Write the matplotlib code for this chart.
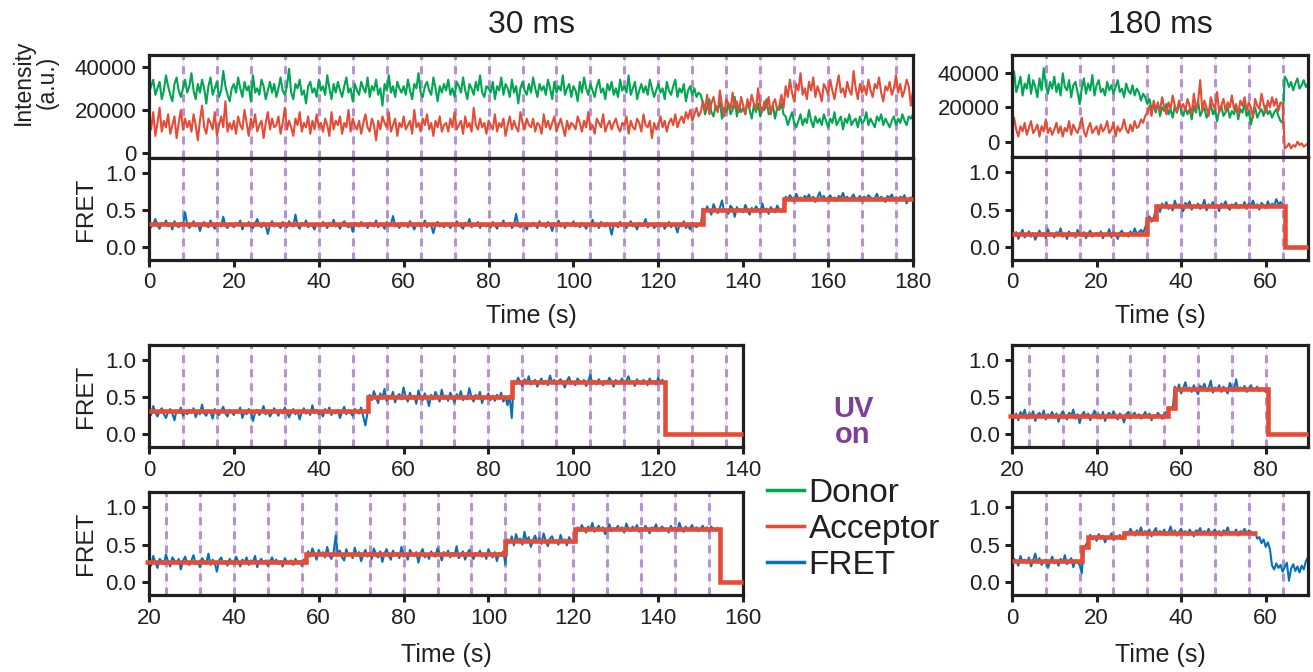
import numpy as np
import matplotlib
matplotlib.use('Agg')
import matplotlib.pyplot as plt
from matplotlib.lines import Line2D

plt.rcParams['font.family'] = ['Liberation Sans', 'DejaVu Sans']

# cores
VERDE = '#00A651'
VERMELHO = '#E64B35'
AZUL = '#0572B8'
ROXO_TRACO = '#B592D0'
ROXO_UV = '#7F3F98'
PRETO = '#231F20'

# ---------------- dados (1 ponto a cada 0,5 s) ----------------
# 30 ms, painel de cima, 0 a 180 s: intensidades em milhares (a.u.)
tl_t = (0, 180)
tl_donor_k = [
    28,31,34,27,30,33,25,29,36,31,27,24,32,35,29,26,30,34,28,31,
    37,29,25,32,28,34,30,23,31,35,27,30,33,26,29,38,31,27,24,30,
    32,28,35,30,26,33,29,31,24,36,28,30,27,34,31,25,29,33,28,32,
    26,30,35,29,27,31,39,28,25,32,30,34,27,29,23,31,33,28,30,26,
    34,29,31,27,36,30,25,32,28,33,29,26,31,35,28,30,24,32,29,27,
    33,30,28,35,26,31,29,34,27,30,22,32,29,36,28,31,26,33,30,28,
    31,27,34,29,25,32,30,37,28,26,31,33,29,27,35,30,24,31,28,32,
    29,34,27,30,26,33,31,28,35,29,25,32,30,27,33,29,36,28,26,31,
    30,28,33,25,31,29,35,27,32,30,26,34,28,31,23,30,33,29,27,32,
    28,35,30,26,32,29,31,27,34,30,25,33,28,31,29,36,27,30,32,26,
    31,29,24,33,28,35,30,27,32,29,26,31,34,28,30,25,32,29,33,27,
    30,26,34,29,31,28,36,27,30,33,25,29,32,28,31,27,34,30,26,29,
    32,28,30,25,33,29,27,31,34,26,30,28,32,24,29,31,27,30,26,28,
    27,
    23,18,21,25,19,17,22,20,24,16,21,19,23,18,20,26,17,22,19,21,
    18,24,20,16,22,19,23,17,21,20,25,18,19,22,16,21,20,23,18,
    17,13,16,19,14,12,15,18,13,16,14,20,15,12,17,14,16,13,18,15,
    12,16,14,19,13,15,17,11,16,14,18,13,15,16,12,17,14,15,19,13,
    16,14,12,17,15,18,13,16,14,12,15,17,13,16,14,18,15,13,17,16,
    18]
tl_acceptor_k = [
    16,11,19,8,14,21,10,15,12,18,9,13,17,7,14,20,11,16,12,15,
    10,18,13,6,15,22,12,9,16,14,11,19,8,13,17,12,24,10,14,11,
    15,9,17,13,11,20,14,8,16,12,18,10,13,15,7,14,19,11,16,12,
    13,17,9,14,21,11,15,12,8,16,13,19,10,14,12,17,9,15,11,18,
    12,14,10,16,13,8,19,11,15,13,17,9,14,12,20,10,16,13,11,15,
    9,14,18,12,10,16,13,6,15,11,17,14,12,19,10,13,16,8,14,12,
    17,11,13,15,9,20,12,14,10,16,13,18,11,14,8,15,12,17,10,13,
    14,10,16,12,19,11,13,15,9,17,12,14,10,21,13,11,16,12,14,9,
    15,13,11,18,10,14,12,16,8,13,17,11,15,12,10,19,14,11,16,13,
    12,16,10,14,13,9,18,12,15,11,14,17,10,13,16,12,8,15,11,14,
    13,11,17,14,10,15,12,19,11,13,9,16,14,12,18,10,13,15,11,14,
    16,12,10,14,13,17,9,15,12,11,16,14,10,18,13,12,15,7,14,11,
    13,17,12,15,10,14,16,13,18,12,15,17,14,19,16,20,15,18,21,17,
    19,
    24,20,27,18,23,26,21,19,29,22,17,25,23,20,28,21,24,19,26,22,
    18,25,21,27,23,20,30,22,19,24,21,26,18,23,25,20,22,27,21,
    31,26,34,28,24,32,29,37,27,30,25,33,29,35,26,31,28,24,32,30,
    27,34,29,25,31,36,28,30,26,33,29,27,38,30,25,32,28,31,27,34,
    29,26,32,30,35,28,24,31,29,33,27,30,36,28,32,26,29,34,31,22,
    29]
# FRET em centésimos
tl_fret = [
    34,27,31,38,29,25,33,30,36,28,32,24,35,30,27,33,29,47,31,26,
    30,35,28,32,22,31,34,29,27,36,30,25,33,31,28,41,29,26,32,30,
    27,33,30,36,24,31,29,34,28,26,32,38,30,27,33,29,18,31,35,28,
    32,29,26,34,31,27,35,30,28,44,29,25,33,30,36,27,31,29,24,32,
    30,28,34,31,26,33,29,37,28,30,25,32,35,29,27,31,21,33,30,28,
    34,29,31,26,33,30,28,36,27,32,30,25,34,29,31,42,28,30,26,33,
    29,32,27,35,30,24,31,33,28,30,36,27,32,29,19,31,34,28,30,27,
    33,30,26,32,29,35,31,28,25,33,30,38,27,31,29,34,26,32,30,28,
    31,27,34,30,25,32,29,36,28,31,33,26,30,45,29,27,32,30,24,31,
    28,33,30,26,35,29,31,27,34,30,22,32,29,36,28,31,26,33,30,29,
    35,28,31,27,33,30,25,32,29,37,28,31,26,34,30,28,33,29,17,31,
    30,27,34,29,32,26,31,35,28,30,24,33,29,31,38,27,30,32,26,29,
    33,28,31,25,30,34,27,32,29,20,31,28,35,26,30,24,33,29,27,31,
    30,
    52,47,55,49,44,58,51,46,53,63,48,50,45,56,52,41,54,49,51,47,
    57,50,44,53,48,55,51,46,59,49,52,45,54,50,47,56,51,48,53,
    68,64,70,66,62,72,65,67,63,69,66,71,64,68,61,67,74,65,69,63,
    66,70,64,67,62,69,66,73,65,68,63,67,71,64,66,69,62,68,65,70,
    67,63,66,72,64,68,65,61,69,66,71,64,67,63,68,66,70,59,65,67,
    66]
tl_fit_t = [0, 130.5, 149.5, 180]
tl_fit_v = [0.32, 0.50, 0.65]
tl_uv = [8, 16, 24, 32, 40, 48, 56, 64, 72, 80, 88, 96, 104, 112, 120, 128,
         136, 144, 152, 160, 168, 176]

# 180 ms, painel de cima, 0 a 70 s
tr_t = (0, 70)
tr_donor_k = [
    35,41,29,33,38,27,34,31,39,28,36,32,26,37,30,43,33,28,35,31,
    38,29,34,27,40,32,30,36,26,33,35,29,22,31,37,28,34,30,39,27,
    33,36,29,31,27,35,30,33,28,32,36,29,31,26,34,30,28,33,27,31,
    29,24,28,26,
    22,25,19,21,17,23,15,20,18,22,16,19,14,21,17,23,18,15,20,16,
    19,13,21,17,24,15,18,20,14,17,22,16,19,12,18,21,15,17,20,14,
    18,16,21,13,19,17,22,15,18,10,16,20,14,17,19,15,21,16,18,14,
    17,19,15,12,11,
    38,36,32,35,30,34,37,31,33,36,32,34]
tr_acceptor_k = [
    5,14,7,3,9,6,11,4,8,12,5,7,10,3,9,6,13,5,8,4,
    7,11,5,9,3,8,6,12,4,10,7,5,9,14,6,3,8,11,5,7,
    9,4,10,6,8,12,5,7,11,3,9,6,8,13,7,5,10,6,12,8,
    9,13,11,15,
    17,21,15,24,19,22,18,26,20,16,23,19,27,21,17,24,20,22,18,25,
    21,16,28,19,23,36,18,24,20,15,26,22,19,29,17,21,25,18,23,20,
    27,19,22,16,24,21,26,18,23,20,14,25,21,19,28,22,17,24,20,26,
    21,25,18,23,22,
    -4,-3,-1,-4,-2,-3,0,-2,-1,-3,-2,-1]
tr_fret_t = (0, 64)
tr_fret = [
    27,15,20,11,18,23,13,17,21,14,19,10,16,22,15,19,12,24,16,18,
    13,20,17,25,14,18,11,21,16,19,13,23,17,15,20,12,18,22,14,17,
    19,15,21,12,18,16,24,13,20,17,11,19,22,15,18,14,21,16,25,18,
    20,23,19,26,
    36,41,34,39,
    50,56,47,58,53,60,51,55,49,62,54,57,52,48,59,55,61,50,56,53,
    58,51,55,63,49,57,54,60,52,56,48,58,55,61,53,50,57,55,59,52,
    56,54,60,51,58,55,62,53,57,50,59,56,52,61,54,58,55,64,57,60,
    56]
tr_fit_t = [0, 32, 34, 64.5, 70]
tr_fit_v = [0.17, 0.37, 0.55, 0.0]
tr_uv = [8, 16, 24, 32, 40, 48, 56, 64]

# 30 ms, meio: FRET de 0 a 121 s
ml_t = (0, 121)
ml_fret = [
    33,26,38,29,24,31,35,27,22,30,34,28,19,32,29,36,25,30,27,33,
    29,35,23,31,27,40,28,25,32,30,21,34,29,26,31,37,28,24,33,30,
    26,32,29,36,22,30,27,34,31,18,29,33,26,30,38,27,32,24,29,35,
    31,25,33,28,36,30,23,29,34,27,32,20,30,35,28,31,26,39,29,33,
    27,30,24,34,29,36,26,31,28,33,22,30,37,27,32,29,25,34,31,28,
    36,24,12,29,
    53,46,58,50,42,55,48,61,45,52,49,57,43,51,54,47,63,50,44,56,
    48,52,41,59,50,46,55,49,38,53,47,57,51,44,60,48,52,45,56,50,
    43,54,49,58,46,51,47,62,50,44,53,48,57,42,51,49,55,46,52,45,
    53,48,56,44,50,39,52,22,
    72,68,76,70,65,74,69,78,67,71,73,64,70,75,68,72,66,79,70,73,
    67,71,74,69,63,72,77,68,70,66,75,71,69,73,65,70,80,68,72,67,
    74,70,66,72,69,76,71,64,73,68,70,75,67,72,78,69,71,65,74,70,
    68,73,71,66,75,69,72,67,76,70,73]
ml_fit_t = [0, 51.5, 85.5, 121.5, 140]
ml_fit_v = [0.31, 0.50, 0.70, 0.0]
ml_uv = [8, 16, 24, 32, 40, 48, 56, 64, 72, 80, 88, 96, 104, 112, 120, 128, 136]

# 30 ms, baixo: FRET de 20 a 154 s
bl_t = (20, 154)
bl_fret = [
    30,22,35,26,19,31,28,24,37,27,21,33,29,25,31,17,28,34,26,23,
    29,36,24,27,20,32,28,25,38,23,30,26,14,29,33,25,28,22,31,27,
    24,34,28,21,30,26,33,23,29,27,35,20,28,31,25,29,22,27,33,26,
    30,24,28,21,32,27,25,29,23,31,26,28,22,30,25,
    41,34,45,38,30,43,36,40,33,47,35,31,39,62,37,42,33,29,44,36,
    38,32,46,35,40,28,37,43,34,39,31,45,36,33,41,27,38,44,35,30,
    42,36,39,32,47,34,37,30,43,38,35,40,26,39,44,33,37,31,41,36,
    34,45,38,29,40,36,42,33,39,35,48,32,37,41,30,38,43,35,31,39,
    36,42,34,38,31,44,37,33,40,28,39,35,41,24,
    57,52,61,49,64,55,58,50,67,54,60,47,56,62,53,59,51,65,55,48,
    58,61,53,56,50,63,54,57,49,60,55,52,58,
    73,68,76,71,66,74,70,79,67,72,75,69,73,64,71,77,68,72,70,75,
    69,73,66,78,71,68,74,70,76,67,72,69,75,71,65,73,70,77,68,72,
    74,69,71,66,75,70,73,68,79,71,67,74,70,72,76,69,73,68,71,75,
    70,73,67,74,71,69,72]
bl_fit_t = [19, 57, 104, 120.5, 154.5, 160]
bl_fit_v = [0.27, 0.37, 0.55, 0.71, 0.0]
bl_uv = [24, 32, 40, 48, 56, 64, 72, 80, 88, 96, 104, 112, 120, 128, 136, 144, 152]

# 180 ms, meio: FRET de 20 a 80 s
mr_t = (20, 80)
mr_fret = [
    34,22,28,19,30,25,33,21,27,24,31,18,26,29,23,32,20,27,25,30,
    22,28,17,26,31,24,20,29,25,33,21,27,15,26,30,23,28,19,25,32,
    24,27,21,30,18,26,29,23,31,25,20,28,24,16,27,30,22,26,29,23,
    27,21,25,30,24,28,19,26,23,29,25,21,27,30,
    31,36,34,
    64,58,67,55,62,70,59,63,57,66,60,54,65,61,68,58,62,72,56,63,
    60,66,57,64,61,55,69,62,58,74,59,63,60,65,57,62,66,59,61,64,
    58,62,60,57]
mr_fit_t = [19, 57, 58.5, 80.5, 90]
mr_fit_v = [0.25, 0.35, 0.61, 0.0]
mr_uv = [24, 32, 40, 48, 56, 64, 72, 80]

# 180 ms, baixo: FRET de 0 a 70 s
br_t = (0, 70)
br_fret = [
    24,31,28,22,35,27,30,25,33,21,29,38,26,32,23,28,30,19,27,34,
    25,29,22,31,26,36,24,28,32,20,29,27,23,12,
    45,50,55,
    63,57,61,55,64,59,62,53,60,58,65,56,61,59,63,57,60,
    67,64,71,66,62,69,65,73,63,68,66,70,61,67,72,64,68,65,70,63,
    66,74,64,69,62,67,71,65,68,63,70,66,61,69,67,72,64,68,65,71,
    63,67,70,65,68,62,69,66,73,64,67,65,70,62,68,66,71,64,69,67,
    63,66,58,
    60,52,57,47,53,44,22,17,25,19,23,14,20,26,2,18,24,15,21,13,
    22,17,28,33]
br_fit_t = [0, 16.5, 18, 26.5, 58]
br_fit_v = [0.28, 0.47, 0.60, 0.66]
br_uv = [8, 16, 24, 32, 40, 48, 56, 64]

# ---------------- figura ----------------
W, H = 1313, 672
fig = plt.figure(figsize=(W / 100, H / 100), dpi=100)


def eixo(x0, y0, x1, y1):
    # caixa em pixels (topo-esquerda)
    ax = fig.add_axes([x0 / W, 1 - y1 / H, (x1 - x0) / W, (y1 - y0) / H])
    for s in ax.spines.values():
        s.set_linewidth(2.3)
        s.set_color(PRETO)
    ax.tick_params(direction='out', length=5, width=2.2, labelsize=16,
                   pad=4, colors=PRETO)
    return ax


def linhas_uv(ax, tempos):
    for t in tempos:
        ax.axvline(t, color='#E9E3EF', lw=0.8, zorder=0)
        ax.axvline(t, color=ROXO_TRACO, lw=2.2, ls=(0, (2.6, 2.0)), zorder=1)


def painel_fret(ax, t_ini_fim, fret, fit_t, fit_v, uv, xlim, xticks):
    linhas_uv(ax, uv)
    tt = np.linspace(t_ini_fim[0], t_ini_fim[1], len(fret))
    ax.plot(tt, np.array(fret) / 100, color=AZUL, lw=1.5, zorder=2)
    ax.stairs(fit_v, fit_t, baseline=None, color=VERMELHO, lw=3.3,
              zorder=3, clip_on=False)
    ax.set_xlim(xlim)
    ax.set_ylim(-0.17, 1.2)
    ax.set_yticks([0, 0.5, 1.0])
    ax.set_yticklabels(['0.0', '0.5', '1.0'])
    ax.set_xticks(xticks)


def painel_int(ax, t_ini_fim, donor_k, acceptor_k, uv, ylim):
    linhas_uv(ax, uv)
    tt = np.linspace(t_ini_fim[0], t_ini_fim[1], len(donor_k))
    ax.plot(tt, np.array(donor_k) * 1000, color=VERDE, lw=1.5, zorder=2)
    ax.plot(tt, np.array(acceptor_k) * 1000, color=VERMELHO, lw=1.5, zorder=2)
    ax.set_ylim(ylim)
    ax.set_yticks([0, 20000, 40000])
    ax.set_yticklabels(['0', '20000', '40000'])
    ax.tick_params(axis='x', bottom=False, labelbottom=False)


# 30 ms em cima
ax1 = eixo(149, 55, 913, 158)
painel_int(ax1, tl_t, tl_donor_k, tl_acceptor_k, tl_uv, (-2200, 45400))
ax1.set_xlim(0, 180)
ax2 = eixo(149, 158, 913, 260)
painel_fret(ax2, tl_t, tl_fret, tl_fit_t, tl_fit_v, tl_uv, (0, 180),
            [0, 20, 40, 60, 80, 100, 120, 140, 160, 180])

# 180 ms em cima
ax3 = eixo(1012, 55, 1308, 157)
painel_int(ax3, tr_t, tr_donor_k, tr_acceptor_k, tr_uv, (-9000, 50700))
ax3.set_xlim(0, 70)
ax4 = eixo(1012, 157, 1308, 260)
painel_fret(ax4, tr_fret_t, tr_fret, tr_fit_t, tr_fit_v, tr_uv, (0, 70),
            [0, 20, 40, 60])

# meio
ax5 = eixo(149, 345, 743, 447)
painel_fret(ax5, ml_t, ml_fret, ml_fit_t, ml_fit_v, ml_uv, (0, 140),
            [0, 20, 40, 60, 80, 100, 120, 140])
ax6 = eixo(1012, 345, 1308, 447)
painel_fret(ax6, mr_t, mr_fret, mr_fit_t, mr_fit_v, mr_uv, (20, 90),
            [20, 40, 60, 80])

# baixo
ax7 = eixo(149, 492, 743, 595)
painel_fret(ax7, bl_t, bl_fret, bl_fit_t, bl_fit_v, bl_uv, (20, 160),
            [20, 40, 60, 80, 100, 120, 140, 160])
ax8 = eixo(1012, 492, 1308, 595)
painel_fret(ax8, br_t, br_fret, br_fit_t, br_fit_v, br_uv, (0, 70),
            [0, 20, 40, 60])


# textos
def ftxt(x, y, s, **kw):
    fig.text(x / W, 1 - y / H, s, color=PRETO, **kw)


ftxt(531, 25, '30 ms', fontsize=23, ha='center', va='center')
ftxt(1160, 25, '180 ms', fontsize=23, ha='center', va='center')
ftxt(35, 82, 'Intensity\n(a.u.)', fontsize=16.5, rotation=90, ha='center',
     va='center', multialignment='center', linespacing=1.05)
for y in [209, 396, 543]:
    ftxt(86, y, 'FRET', fontsize=17.5, rotation=90, ha='center', va='center')
for x, y in [(531, 316), (1160, 316), (446, 655), (1160, 655)]:
    ftxt(x, y, 'Time (s)', fontsize=18, ha='center', va='center')

fig.text(853 / W, 1 - 422 / H, 'UV\non', color=ROXO_UV, fontsize=21,
         fontweight='bold', ha='center', va='center', linespacing=0.95)

# legenda
alcas = [Line2D([], [], color=VERDE, lw=2.5),
         Line2D([], [], color=VERMELHO, lw=2.5),
         Line2D([], [], color=AZUL, lw=2.5)]
leg = fig.legend(alcas, ['Donor', 'Acceptor', 'FRET'], loc='upper left',
                 bbox_to_anchor=(767 / W, 1 - 478 / H), frameon=False,
                 fontsize=24, handlelength=1.1, handletextpad=0.15,
                 labelspacing=0.15, borderpad=0, borderaxespad=0)
for t in leg.get_texts():
    t.set_color(PRETO)

fig.savefig('out.png', dpi=100)
